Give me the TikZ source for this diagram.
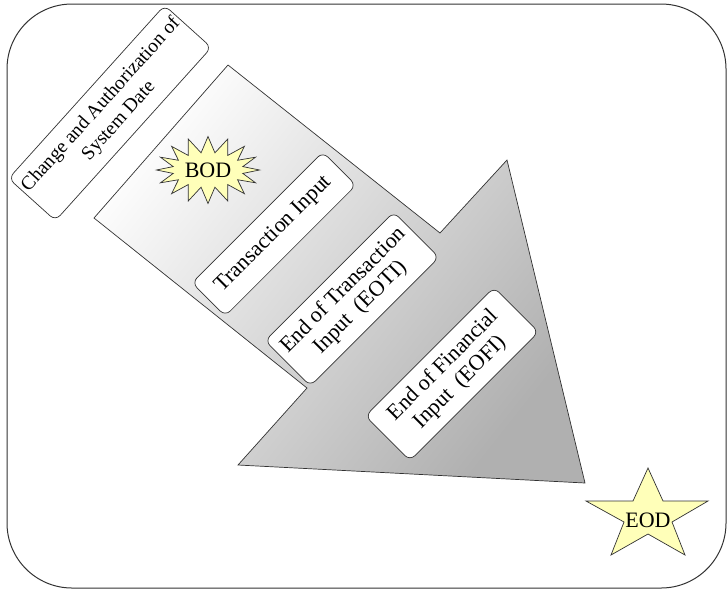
\documentclass[tikz,border=0pt]{standalone}
\usepackage{fontspec}
\setmainfont{Liberation Serif}
\usetikzlibrary{shapes.symbols}

\definecolor{notefill}{RGB}{255,255,185}
\definecolor{edgegray}{RGB}{50,50,50}

\tikzset{
  stepbox/.style={draw=edgegray, line width=0.7pt, fill=white, rounded corners=7pt,
    align=center, inner sep=1pt, text=black, font=\fontsize{22}{24}\selectfont},
  markfill/.style={draw=edgegray, line width=0.7pt, fill=notefill, text=black,
    font=\fontsize{22}{24}\selectfont}
}

\begin{document}
\begin{tikzpicture}[x=1pt, y=-1pt]
    \useasboundingbox (0,0) rectangle (727,590);

    % The frame
    \draw[black!80, line width=1pt, rounded corners=65pt] (7,4) rectangle (726,588);

    % The big arrow
    \draw[edgegray, line width=0.7pt, top color=gray!2, bottom color=gray!62,
        shading angle=51.6]
        (228,65) -- (440,233) -- (507,160) -- (585,483) -- (238,465)
        -- (307,388) -- (94,218) -- cycle;

    % The steps
    \node[stepbox, minimum width=233pt, minimum height=63pt, rotate=48,
        font=\fontsize{19.5}{24}\selectfont] (sysdate) at (110,113)
        {Change and Authorization of\\System Date};
    \node[stepbox, minimum width=185pt, minimum height=47pt, rotate=45] (txninput)
        at (274,234) {Transaction Input};
    \node[stepbox, minimum width=182pt, minimum height=64pt, rotate=45] (eoti)
        at (352,299) {End of Transaction\\Input~~(EOTI)};
    \node[stepbox, minimum width=182pt, minimum height=63pt, rotate=45] (eofi)
        at (452,374) {End of Financial\\Input~~(EOFI)};

    % Begin of day
    \node[markfill, starburst, starburst points=16, starburst point height=16pt,
        random starburst=0, minimum width=103pt, minimum height=67pt,
        inner sep=0pt] (bod) at (208,170) {BOD};

    % End of day
    \draw[markfill] (648,468) -- (663,501) -- (708,501) -- (672,522) -- (685,555)
        -- (648,534) -- (611,555) -- (624,522) -- (586,501) -- (633,501) -- cycle;
    \node[text=black, font=\fontsize{22}{24}\selectfont, inner sep=0pt] (eod)
        at (648,520) {EOD};
\end{tikzpicture}
\end{document}
